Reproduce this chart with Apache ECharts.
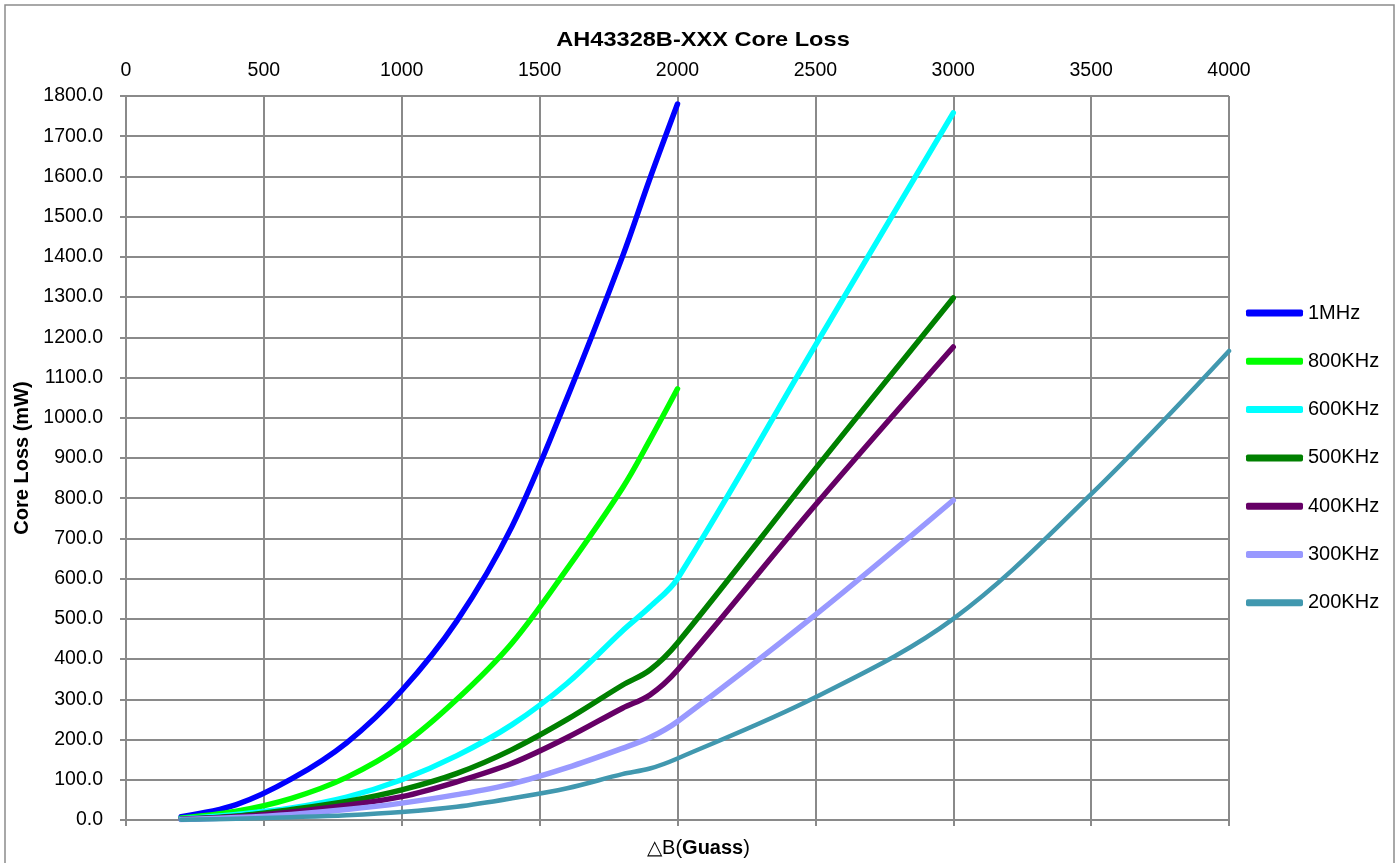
<!DOCTYPE html>
<html>
<head>
<meta charset="utf-8">
<script src="https://cdn.jsdelivr.net/npm/echarts@6/dist/echarts.min.js"></script>
<style>
html,body{margin:0;padding:0;background:#fff;}
#chart{width:1395px;height:863px;}
</style>
</head>
<body>
<div id="chart"></div>
<script>
// ΔB (Gauss) sample points
const B_to2000 = [200, 400, 600, 800, 1000, 1200, 1400, 1600, 1800, 1900, 2000];
const B_to3000 = [200, 400, 600, 800, 1000, 1200, 1400, 1600, 1800, 1900, 2000, 2500, 3000];
const B_to4000 = [200, 400, 600, 800, 1000, 1200, 1400, 1600, 1800, 1900, 2000, 2500, 3000, 3500, 4000];

// Core loss (mW)
const loss1MHz   = [8, 38, 102, 192, 322, 495, 730, 1050, 1400, 1595, 1780];
const loss800KHz = [5, 22, 54, 106, 185, 300, 440, 625, 825, 945, 1072];
const loss600KHz = [3, 14, 30, 57, 100, 160, 237, 340, 470, 530, 600, 1180, 1758];
const loss500KHz = [2, 10, 26, 46, 75, 116, 175, 250, 335, 373, 440, 873, 1298];
const loss400KHz = [2, 8, 20, 37, 58, 95, 141, 205, 278, 311, 373, 783, 1176];
const loss300KHz = [1, 6, 14, 26, 42, 63, 90, 130, 178, 205, 245, 510, 795];
const loss200KHz = [0.5, 3, 7, 12, 20, 33, 54, 79, 114, 128, 153, 305, 500, 810, 1166];

const seriesNames = ['1MHz', '800KHz', '600KHz', '500KHz', '400KHz', '300KHz', '200KHz'];
const seriesColors = ['#0000FF', '#00FF00', '#00FFFF', '#008000', '#660066', '#9999FF', '#4198AF'];
const seriesX = [B_to2000, B_to2000, B_to3000, B_to3000, B_to3000, B_to3000, B_to4000];
const seriesY = [loss1MHz, loss800KHz, loss600KHz, loss500KHz, loss400KHz, loss300KHz, loss200KHz];

const xTicks = [0, 500, 1000, 1500, 2000, 2500, 3000, 3500, 4000];
const yTicks = [0, 100, 200, 300, 400, 500, 600, 700, 800, 900, 1000, 1100, 1200, 1300, 1400, 1500, 1600, 1700, 1800];

const FONT = "'Liberation Sans', Arial, sans-serif";
const GRID_COLOR = '#8a8a8a';

const chart = echarts.init(document.getElementById('chart'), null, {renderer: 'canvas'});

const series = seriesNames.map((name, i) => ({
  name: name,
  type: 'line',
  xAxisIndex: 0,
  yAxisIndex: 0,
  smooth: 0.35,
  showSymbol: false,
  symbol: 'none',
  data: seriesX[i].map((b, j) => [b, seriesY[i][j]]),
  lineStyle: {color: seriesColors[i], width: i === 6 ? 4.5 : 5.5, cap: 'round', join: 'round'},
  itemStyle: {color: seriesColors[i]},
  emphasis: {disabled: true},
  animation: false
}));

const option = {
  backgroundColor: '#ffffff',
  animation: false,
  textStyle: {fontFamily: FONT},
  graphic: [{
    type: 'rect',
    shape: {x: 5, y: 5, width: 1389, height: 880},
    style: {fill: 'none', stroke: '#8c8c8c', lineWidth: 1.5},
    silent: true,
    z: -1
  }, {
    type: 'text',
    x: 703,
    y: 40,
    scaleX: 1.15,
    silent: true,
    style: {
      text: 'AH43328B-XXX Core Loss',
      x: 0, y: 0,
      align: 'center',
      verticalAlign: 'middle',
      font: "bold 20.5px 'Liberation Sans', Arial, sans-serif",
      fill: '#000'
    }
  }],
  legend: {
    orient: 'vertical',
    left: 1241,
    top: 298,
    itemWidth: 57,
    itemHeight: 7,
    itemGap: 28.3,
    icon: 'roundRect',
    data: seriesNames,
    textStyle: {fontFamily: FONT, fontSize: 20, color: '#000'}
  },
  grid: {left: 126, right: 166, top: 96, bottom: 43, containLabel: false},
  xAxis: [{
    type: 'value',
    position: 'top',
    min: 0, max: 4000, interval: 500,
    axisLine: {show: true, lineStyle: {color: GRID_COLOR, width: 2}},
    axisTick: {show: false},
    axisLabel: {show: true, fontFamily: FONT, fontSize: 19.5, color: '#000', margin: 15,
      formatter: v => xTicks.includes(v) ? String(v) : ''},
    splitLine: {show: true, lineStyle: {color: GRID_COLOR, width: 2}}
  }, {
    type: 'value',
    position: 'bottom',
    min: 0, max: 4000, interval: 500,
    name: '△B({b|Guass})',
    nameLocation: 'middle',
    nameGap: 18,
    nameTextStyle: {fontFamily: FONT, fontSize: 20, color: '#000', padding: [0, 0, 0, 42],
      rich: {b: {fontFamily: FONT, fontSize: 20, fontWeight: 'bold', color: '#000'}}},
    axisLine: {show: true, onZero: false, lineStyle: {color: GRID_COLOR, width: 2}},
    axisTick: {show: true, inside: false, length: 6, lineStyle: {color: GRID_COLOR, width: 2}},
    axisLabel: {show: false},
    splitLine: {show: false}
  }],
  yAxis: [{
    type: 'value',
    min: 0, max: 1800, interval: 100,
    name: 'Core Loss (mW)',
    nameLocation: 'middle',
    nameGap: 83,
    nameRotate: 90,
    nameTextStyle: {fontFamily: FONT, fontSize: 20, fontWeight: 'bold', color: '#000'},
    axisLine: {show: true, lineStyle: {color: GRID_COLOR, width: 2}},
    axisTick: {show: true, inside: false, length: 6, lineStyle: {color: GRID_COLOR, width: 2}},
    axisLabel: {fontFamily: FONT, fontSize: 19.5, color: '#000', margin: 23,
      formatter: v => yTicks.includes(v) ? v.toFixed(1) : ''},
    splitLine: {show: true, lineStyle: {color: GRID_COLOR, width: 2}}
  }],
  tooltip: {show: false},
  series: series
};

chart.setOption(option);
</script>
</body>
</html>
